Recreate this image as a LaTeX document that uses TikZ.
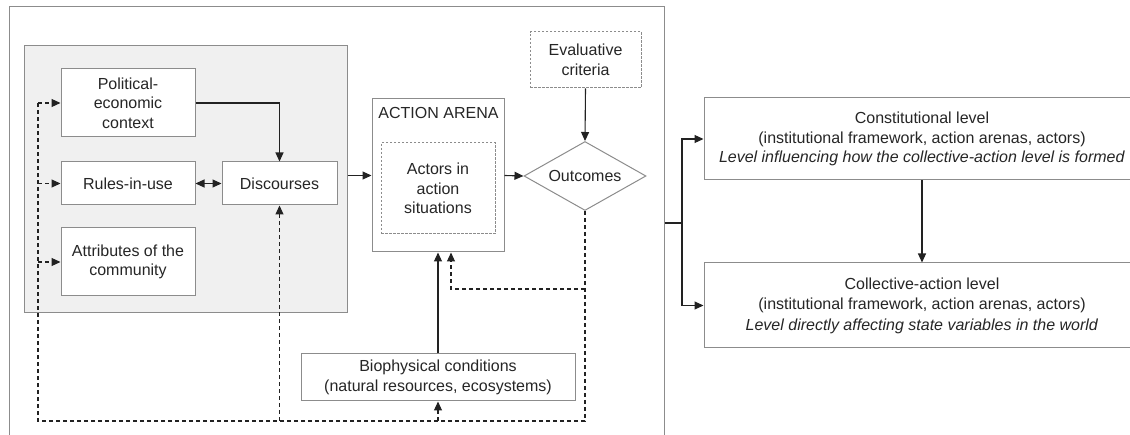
\documentclass[tikz,border=0pt]{standalone}
\usepackage{fontspec}
\setmainfont{Liberation Sans}
\usetikzlibrary{shapes.geometric,arrows.meta,calc}
\definecolor{bordc}{HTML}{8C8C8C}
\definecolor{linec}{HTML}{222222}
\definecolor{txtc}{HTML}{262626}
\definecolor{ctxfill}{HTML}{F0F0F0}
\begin{document}
\begin{tikzpicture}[x=1pt,y=-1pt,
  font=\fontsize{16}{19.5}\selectfont, text=txtc,
  box/.style={draw=bordc, line width=1pt, fill=white, inner sep=0pt, align=center},
  dbox/.style={box, dash pattern=on 2.5pt off 1.5pt},
  conn/.style={draw=linec, line width=1.1pt},
  tip/.style={-{Triangle[length=9pt,width=8pt]}},
  arr/.style={conn, tip},
  darr/.style={conn, dash pattern=on 4pt off 3pt},
]
\clip (0,0) rectangle (1130,435);
% outer frame
\node[box, fill=none, minimum width=655pt, minimum height=443pt] (frame) at (336.5,228.5) {};
% context box
\node[box, fill=ctxfill, minimum width=323pt, minimum height=267pt] (ctx) at (185.5,179.5) {};
% boxes
\node[box, minimum width=134pt, minimum height=68pt] (pol) at (128,103) {Political-\\economic\\context};
\node[box, minimum width=134pt, minimum height=43pt] (rules) at (128,183.5) {Rules-in-use};
\node[box, minimum width=115pt, minimum height=43pt] (disc) at (279.5,183.5) {Discourses};
\node[box, minimum width=134pt, minimum height=68pt] (attr) at (128,262) {Attributes of the\\community};
\node[box, minimum width=132pt, minimum height=153pt] (arena) at (438,175.5) {};
\node[inner sep=0pt] (arenalbl) at (438.5,113) {ACTION ARENA};
\node[dbox, minimum width=114pt, minimum height=91pt] (actors) at (438,188.5) {Actors in\\action\\situations};
\node[dbox, minimum width=111pt, minimum height=56pt] (eval) at (585.5,60) {Evaluative\\criteria};
\node[box, shape=diamond, shape aspect=1.77, minimum width=122pt, minimum height=69pt] (out) at (585,176) {Outcomes};
\node[box, minimum width=274pt, minimum height=47pt] (bio) at (438,377.5) {Biophysical conditions\\(natural resources, ecosystems)};
\node[box, minimum width=436pt, minimum height=82pt, font=\fontsize{16}{19.5}\selectfont] (const) at (922,139) {Constitutional level\\(institutional framework, action arenas, actors)\\\textit{Level influencing how the collective-action level is formed}};
\node[box, minimum width=436pt, minimum height=85pt, font=\fontsize{16}{20.5}\selectfont] (coll) at (922,305.5) {Collective-action level\\(institutional framework, action arenas, actors)\\\textit{Level directly affecting state variables in the world}};
% coordinates
\coordinate (fbL) at (38,421);
\coordinate (fbR) at (585,421);
\coordinate (br) at (451,289);
\coordinate (split) at (682,223);
% solid connectors
\draw[arr] (pol.east) -| (disc.north);
\draw[conn, {Triangle[length=9pt,width=8pt]}-{Triangle[length=9pt,width=8pt]}] (rules.east) -- (disc.west);
\draw[arr] (arena.west -| ctx.east) -- (arena.west);
\draw[arr] (arena.east) -- (out.west);
\draw[arr] (eval.south) -- (out.north);
\draw[arr] (bio.north) -- (arena.south);
% dashed feedback
\draw[darr] (out.south) -- (fbR) -- (fbL) -- (fbL |- pol.west);
\draw[darr, tip] (fbL |- pol.west) -- (pol.west);
\draw[darr, tip] (fbL |- rules.west) -- (rules.west);
\draw[darr, tip] (fbL |- attr.west) -- (attr.west);
\draw[darr, tip] (disc.south |- fbL) -- (disc.south);
\draw[darr, tip] (bio.south |- fbL) -- (bio.south);
\draw[darr, tip] (out.south |- br) -- (br) -- (br |- arena.south);
% right part
\draw[conn] (split -| frame.east) -- (split);
\draw[arr] (split) |- (const.west);
\draw[arr] (split) |- (coll.west);
\draw[arr] (const.south) -- (coll.north);
\end{tikzpicture}
\end{document}
